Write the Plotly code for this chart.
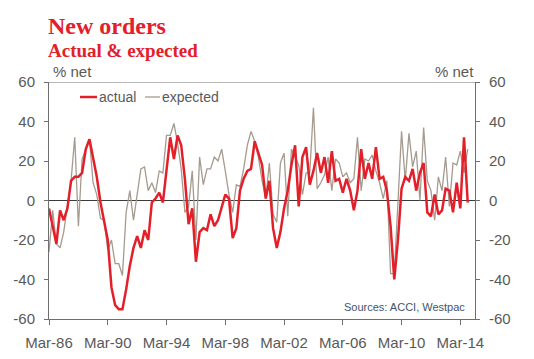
import plotly.graph_objects as go
import pandas as pd

# Quarterly, Mar-86 onward (% net)
actual = [
    -4, -14, -22, -5, -10, -4, 10, 12, 12, 14,
    26, 31, 22, 12, -1, -10, -20, -44, -53, -55,
    -55, -45, -33, -24, -18, -24, -15, -20, -1, 1,
    4, -1, 15, 32, 21, 33, 28, 11, -12, -4,
    -31, -16, -14, -15, -7, -13, -10, -4, 3, 1,
    -19, -14, 5, 11, 15, 16, 30, 24, 18, 1,
    10, -14, -24, -16, -4, 5, 18, 28, -3, 22,
    27, 8, 15, 24, 14, 22, 9, 25, 10, 11,
    4, 11, 5, -5, 5, 26, 11, 19, 11, 27,
    11, 12, 5, -13, -40, -20, 6, 12, 10, 16,
    5, 14, 19, -6, -8, 3, -7, -5, 6, 5,
    -6, 9, -4, 32, -1,
]
expected = [
    -26, -5, -22, -24, -16, -4, 10, 32, -13, 21,
    26, 31, 9, 3, -9, -10, -25, -20, -32, -32,
    -38, -6, 5, -10, 3, 16, 17, 5, 9, 4,
    15, 14, 33, 33, 39, 29, 16, -6, -3, 15,
    -20, 22, 8, 16, 16, 22, 20, 26, 15, 3,
    -6, 8, 7, 16, 28, 35, 30, 22, 10, 1,
    19, -7, -11, 19, 24, -8, 26, 22, 18, 3,
    14, 14, 47, 6, 9, 13, 22, 5, 21, 19,
    12, 14, 9, 11, 32, 5, 21, 20, 23, 15,
    9, 1, 10, -37, -37, -1, 35, 10, 34, 17,
    25, 0, 37, 10, 5, -10, 12, 5, 22, -3,
    19, 18, 25, 14, 26,
]
dates = pd.date_range("1986-03-01", periods=len(actual), freq="3MS")

x_tick_vals = pd.date_range("1986-03-01", "2014-03-01", freq="48MS")
x_tick_text = ["Mar-86", "Mar-90", "Mar-94", "Mar-98", "Mar-02", "Mar-06", "Mar-10", "Mar-14"]
y_tick_vals = [-60, -40, -20, 0, 20, 40, 60]
y_tick_text = ["-60", "-40", "-20", "0", "20", "40", "60"]

RED = "#E3202A"
GREY = "#A59A8E"
AX = "#6E6E6E"
TXT = "#595959"
FONT = "Liberation Sans, Arial, sans-serif"
SERIF = "Liberation Serif, Times New Roman, serif"

fig = go.Figure()
fig.add_trace(go.Scatter(x=dates, y=expected, name="expected", mode="lines",
                         line=dict(color=GREY, width=1.3), yaxis="y"))
fig.add_trace(go.Scatter(x=dates, y=actual, name="actual", mode="lines",
                         line=dict(color=RED, width=2.5), yaxis="y2"))

axis_common = dict(range=[-60, 60], tickvals=y_tick_vals, ticktext=y_tick_text,
                   ticks="outside", ticklen=4, tickcolor=AX, showline=True,
                   linecolor=AX, linewidth=1, showgrid=False,
                   tickfont=dict(family=FONT, size=15, color=TXT),
                   ticklabelstandoff=6, fixedrange=True, automargin=False)

fig.update_layout(
    width=534, height=359,
    margin=dict(l=49, r=59, t=82, b=40, autoexpand=False),
    paper_bgcolor="white", plot_bgcolor="white",
    showlegend=False,
    font=dict(family=FONT, color=TXT),
    xaxis=dict(type="date", range=["1986-03-01", "2015-03-01"],
               tickvals=x_tick_vals, ticktext=x_tick_text,
               ticks="outside", ticklen=5, tickcolor=AX,
               showline=True, linecolor=AX, linewidth=1,
               showgrid=False, zeroline=False, automargin=False,
               tickfont=dict(family=FONT, size=15, color=TXT),
               ticklabelstandoff=5),
    yaxis=dict(**axis_common, zeroline=True, zerolinecolor="#3A3A3A", zerolinewidth=1.2),
    yaxis2=dict(**axis_common, overlaying="y", side="right", zeroline=False),
)

# top frame line at 60
fig.add_shape(type="line", xref="paper", yref="y", x0=0, x1=1, y0=60, y1=60,
              line=dict(color=AX, width=1))

# manual legend
fig.add_shape(type="line", xref="paper", yref="paper", x0=0.0728, x1=0.1127,
              y0=0.9367, y1=0.9367, line=dict(color=RED, width=2.5))
fig.add_shape(type="line", xref="paper", yref="paper", x0=0.2254, x1=0.2606,
              y0=0.9367, y1=0.9367, line=dict(color=GREY, width=1.3))

annos = [
    dict(text="<b>New orders</b>", x=-0.004, y=1.237, font=dict(family=SERIF, size=24, color=RED)),
    dict(text="<b>Actual &amp; expected</b>", x=-0.004, y=1.133, font=dict(family=SERIF, size=19, color=RED)),
    dict(text="% net", x=0.008, y=1.043, font=dict(family=FONT, size=15, color=TXT)),
    dict(text="actual", x=0.115, y=0.935, font=dict(family=FONT, size=14, color=TXT)),
    dict(text="expected", x=0.263, y=0.935, font=dict(family=FONT, size=14, color=TXT)),
]
for a in annos:
    fig.add_annotation(xref="paper", yref="paper", xanchor="left", yanchor="middle",
                       showarrow=False, borderpad=0, **a)
fig.add_annotation(text="% net", xref="paper", yref="paper", x=0.9995, y=1.043,
                   xanchor="right", yanchor="middle", showarrow=False, borderpad=0,
                   font=dict(family=FONT, size=15, color=TXT))
fig.add_annotation(text="Sources: ACCI, Westpac", xref="paper", yref="paper", x=0.979, y=0.05,
                   xanchor="right", yanchor="middle", showarrow=False, borderpad=0,
                   font=dict(family=FONT, size=11, color="#44546A"))

fig.write_html("out.html", config={"displayModeBar": False},
               post_script="document.body.style.margin='0';")
